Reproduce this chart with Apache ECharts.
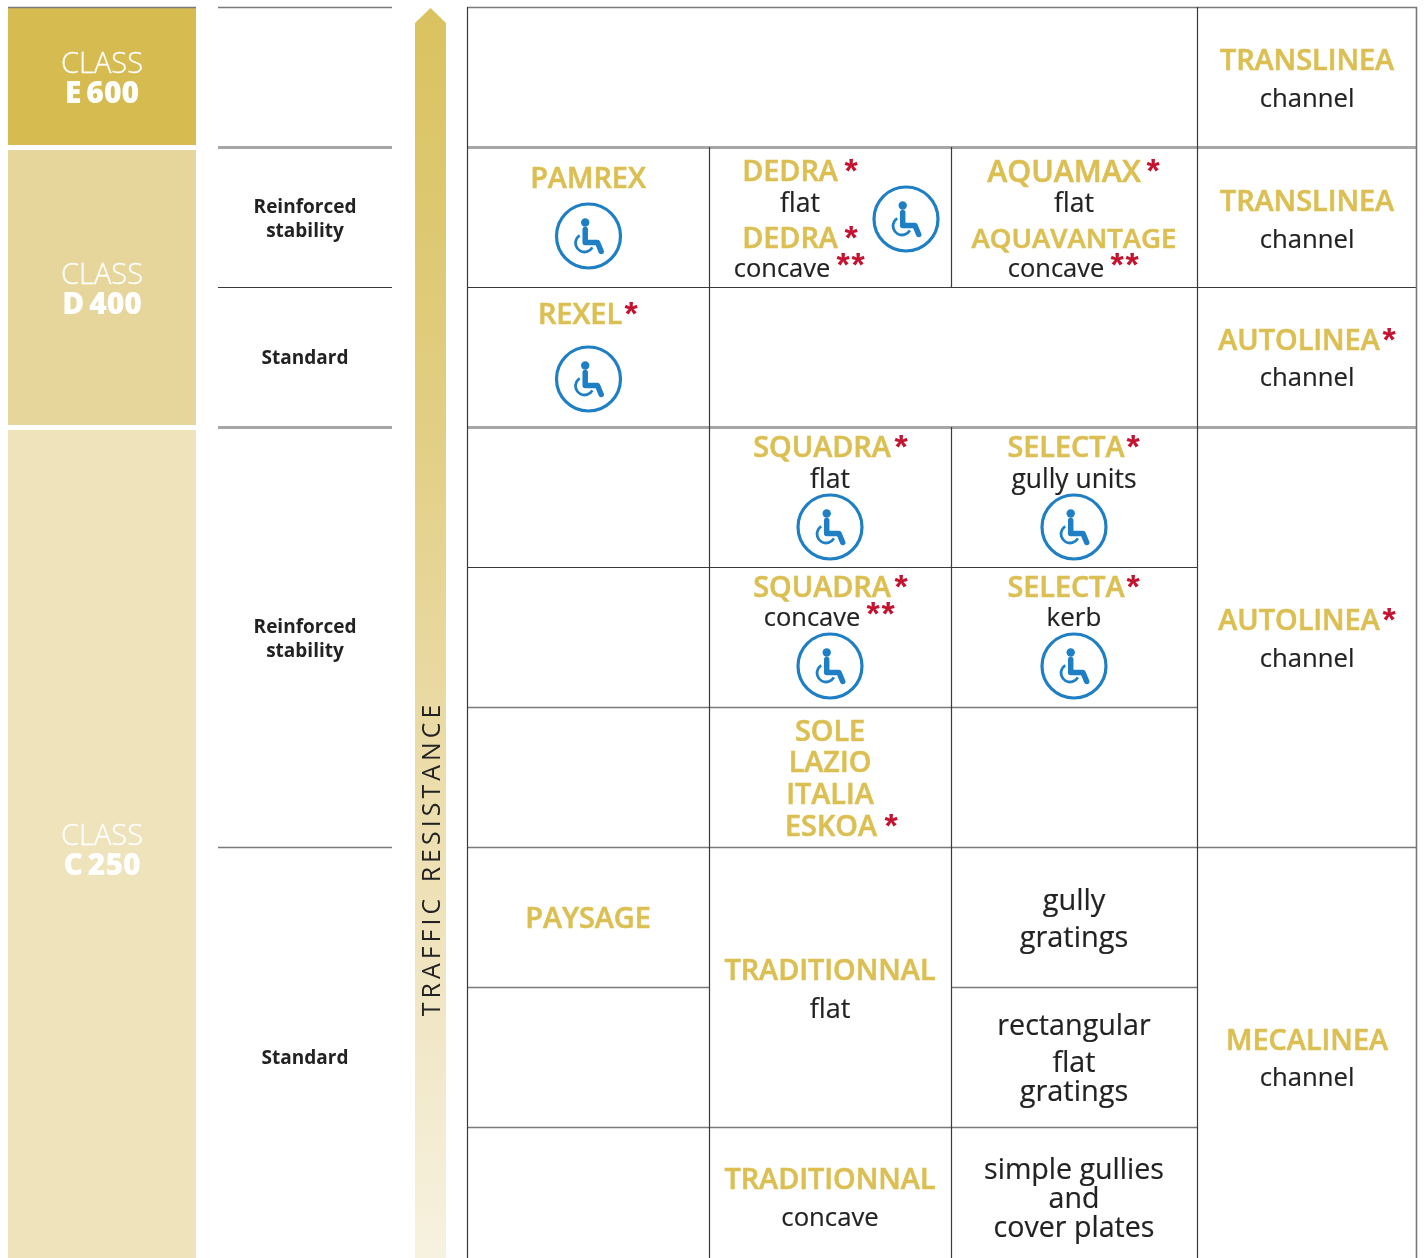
<!DOCTYPE html>
<html><head><meta charset="utf-8">
<style>html,body{margin:0;padding:0;background:#fff}#c{width:1424px;height:1258px}</style>
<script src="https://cdn.jsdelivr.net/npm/echarts@6/dist/echarts.min.js"></script>
</head><body><div id="c"></div>
<script>
// ---- content
const classTitles = ['CLASS','CLASS','CLASS'];
const classCodes = ['E\u2009600','D\u2009400','C\u2009250'];
const stabilityLabels = ['Reinforced','stability','Standard','Reinforced','stability','Standard'];
const productNames = ['TRANSLINEA','PAMREX','DEDRA','DEDRA','AQUAMAX','AQUAVANTAGE','TRANSLINEA','REXEL','AUTOLINEA','SQUADRA','SELECTA','SQUADRA','SELECTA','SOLE','LAZIO','ITALIA','ESKOA','AUTOLINEA','PAYSAGE','TRADITIONNAL','MECALINEA','TRADITIONNAL'];
const typeLabels = ['channel','flat','concave','flat','concave','channel','channel','flat','gully units','concave','kerb','channel','flat','gully','gratings','rectangular','flat','gratings','simple gullies','and','cover plates','concave','channel'];
const arrowTitle = 'TRAFFIC RESISTANCE'.split(' ').map(w=>w.split('').join('\u2009')).join('\u2009\u2009\u2009\u2009');

// ---- layout (pixel scale of the hidden axes)
const classBands = [[8,145],[150,425],[430,1258]];
const classBandX = [8,196];
const classColors = ['#d6bb50','#e7d69b','#efe3bc'];
const classTitleAt = [[102,63],[102,274],[102,835]];
const classCodeAt = [[102,92],[102,303],[102,864]];
const stabilityAt = [[305,207],[305,231],[305,358],[305,627],[305,651],[305,1058]];
const productAt = [[1307,60],[588,178],[790,171],[790,238],[1064,171],[1074,238],[1307,201],[580,314],[1299,340],
 [822,447],[1066,447],[822,587],[1066,587],[830,731],[830,762],[830,794],[831,826],[1299,620],[588,918],[830,970],[1307,1040],[830,1179]];
const productSizes = productNames.map(n=>n==='AQUAMAX'?30.4:n==='AQUAVANTAGE'?27.6:28.8);
const typeAt = [[1307,98],[800,202],[782,268],[1074,202],[1056,268],[1307,239],[1307,377],[830,478],[1074,478],[812,617],[1074,617],[1307,658],
 [830,1008],[1074,900],[1074,937],[1074,1025],[1074,1062],[1074,1091],[1074,1169],[1074,1198],[1074,1227],[830,1217],[1307,1077]];
const typeSizes = [25.7,26.5,25.5,26.5,25.5,25.7,25.7,26.5,26.4,25.5,26,25.7,27,29,29,28.7,28.7,29,28.6,28.6,28.6,25.7,25.7];
const starAt = [[851,168],[851,235],[843,262],[858,262],[1153,168],[1117,262],[1132,262],[631,311],[1389,337],[901,444],[1133,444],[901,584],[873,611],[888,611],[1133,584],[891,823],[1389,617]];
const accessAt = [[588.5,236],[588.5,379],[906,219],[830,527],[1074,527],[830,666],[1074,666]];
const ruleKinds = {dark:['#3a3a3a',1.2],mid:['#7a7a7a',1.6],thick:['#a6a6a6',3],edge:['#777777',1.6]};
const rules = [
 [8,7.5,196,7.5,'mid'],
 [218,7.5,392,7.5,'mid'],[218,147.5,392,147.5,'thick'],[218,287.5,392,287.5,'dark'],[218,427.5,392,427.5,'thick'],[218,847.5,392,847.5,'mid'],
 [467.5,7.5,1417,7.5,'mid'],[467.5,147.5,1417,147.5,'thick'],[467.5,287.5,1417,287.5,'dark'],[467.5,427.5,1417,427.5,'thick'],
 [467.5,567.5,1197,567.5,'dark'],[467.5,707.5,1197,707.5,'mid'],[467.5,847.5,1417,847.5,'mid'],
 [467.5,987.5,709,987.5,'mid'],[951,987.5,1197,987.5,'mid'],[467.5,1127.5,1197,1127.5,'mid'],
 [467.5,7,467.5,1258,'dark'],[709.5,147,709.5,1258,'dark'],[951.5,147,951.5,287,'dark'],[951.5,427,951.5,1258,'dark'],
 [1197.5,7,1197.5,1258,'dark'],[1416.5,7,1416.5,1258,'edge']
];
const arrowShape = [[430.5,8],[446,23],[446,1258],[415,1258],[415,23]];
const arrowLabelAt = [433,860.5];

const FONT = '"Open Sans", "Noto Sans", sans-serif';
const GOLD = '#dcbf52', RED = '#c4122f', INK = '#222222', BLUE = '#1f7fc4';

function textSeries(labels, at, style, opts) {
  const o = opts || {};
  return {
    type:'custom', coordinateSystem:'cartesian2d', clip:false, silent:true,
    data: at.map(p=>p),
    renderItem(params, api){
      const c = api.coord([api.value(0), api.value(1) + (o.dy||0)]);
      const s = Object.assign({text:labels[params.dataIndex], fontFamily:FONT, align:'center', verticalAlign:'middle'}, style);
      if (o.sizes) s.fontSize = o.sizes[params.dataIndex];
      return {type:'text', x:c[0], y:c[1], rotation:o.rotation||0, style:s};
    }
  };
}
const series = [
 { // class bands
   type:'custom', coordinateSystem:'cartesian2d', silent:true, clip:false,
   data: classBands,
   renderItem(params, api){
     const a = api.coord([classBandX[0], api.value(0)]), b = api.coord([classBandX[1], api.value(1)]);
     return {type:'rect', shape:{x:a[0],y:a[1],width:b[0]-a[0],height:b[1]-a[1]}, style:{fill:classColors[params.dataIndex]}};
   }
 },
 { // traffic resistance arrow
   type:'custom', coordinateSystem:'cartesian2d', silent:true, clip:false,
   data:[0],
   renderItem(params, api){
     return {type:'polygon', shape:{points:arrowShape.map(p=>api.coord(p))},
       style:{fill:new echarts.graphic.LinearGradient(0,0,0,1,[
         {offset:0,color:'#dac25f'},{offset:.3,color:'#e0cd7f'},{offset:.6,color:'#ebdca9'},{offset:.85,color:'#f2e9cb'},{offset:1,color:'#f7f2e0'}])}};
   }
 },
 { // table rules
   type:'custom', coordinateSystem:'cartesian2d', silent:true, clip:false,
   data: rules.map(r=>r.slice(0,4)),
   renderItem(params, api){
     const a = api.coord([api.value(0),api.value(1)]), b = api.coord([api.value(2),api.value(3)]);
     const k = ruleKinds[rules[params.dataIndex][4]];
     return {type:'line', shape:{x1:a[0],y1:a[1],x2:b[0],y2:b[1]}, style:{stroke:k[0],lineWidth:k[1]}};
   }
 },
 { // accessibility badges
   type:'custom', coordinateSystem:'cartesian2d', silent:true, clip:false,
   data: accessAt,
   renderItem(params, api){
     const c = api.coord([api.value(0),api.value(1)]);
     return {type:'group', x:c[0], y:c[1], children:[
       {type:'circle', shape:{cx:0,cy:0,r:32}, style:{fill:'#fff',stroke:BLUE,lineWidth:3.2}},
       {type:'circle', shape:{cx:-3.3,cy:-13.5,r:4.2}, style:{fill:BLUE}},
       {type:'polyline', shape:{points:[[-3.3,-6.5],[-3.3,6.5],[9,6.5],[12.7,15.5]]}, style:{fill:null,stroke:BLUE,lineWidth:5.5,lineCap:'round',lineJoin:'round'}},
       {type:'arc', shape:{cx:-4,cy:7,r:9,startAngle:29*Math.PI/180,endAngle:238*Math.PI/180,clockwise:true}, style:{fill:null,stroke:BLUE,lineWidth:2.8}}
     ]};
   }
 },
 textSeries(classTitles, classTitleAt, {fill:'#fff', stroke:'#fff', lineWidth:.3, fontSize:29, fontWeight:300}, {dy:2}),
 textSeries(classCodes, classCodeAt, {fill:'#fff', fontSize:30, fontWeight:800}, {dy:2}),
 textSeries(stabilityLabels, stabilityAt, {fill:INK, fontSize:19, fontWeight:700}, {dy:1}),
 textSeries(productNames, productAt, {fill:GOLD, stroke:GOLD, lineWidth:.6, fontWeight:600}, {dy:2, sizes:productSizes}),
 textSeries(typeLabels, typeAt, {fill:INK, stroke:INK, lineWidth:.2, fontWeight:400}, {dy:2, sizes:typeSizes}),
 textSeries(starAt.map(()=>'*'), starAt, {fill:RED, fontFamily:'"Liberation Sans", sans-serif', fontSize:34, fontWeight:700}, {dy:5}),
 textSeries([arrowTitle], [arrowLabelAt], {fill:INK, fontSize:24.8, fontWeight:400}, {rotation:Math.PI/2})
];
const chart = echarts.init(document.getElementById('c'), null, {renderer:'canvas'});
chart.setOption({
  animation:false,
  backgroundColor:'#fff',
  grid:{left:0,right:0,top:0,bottom:0},
  xAxis:{type:'value',min:0,max:1424,show:false},
  yAxis:{type:'value',min:0,max:1258,inverse:true,show:false},
  series
});
</script></body></html>
